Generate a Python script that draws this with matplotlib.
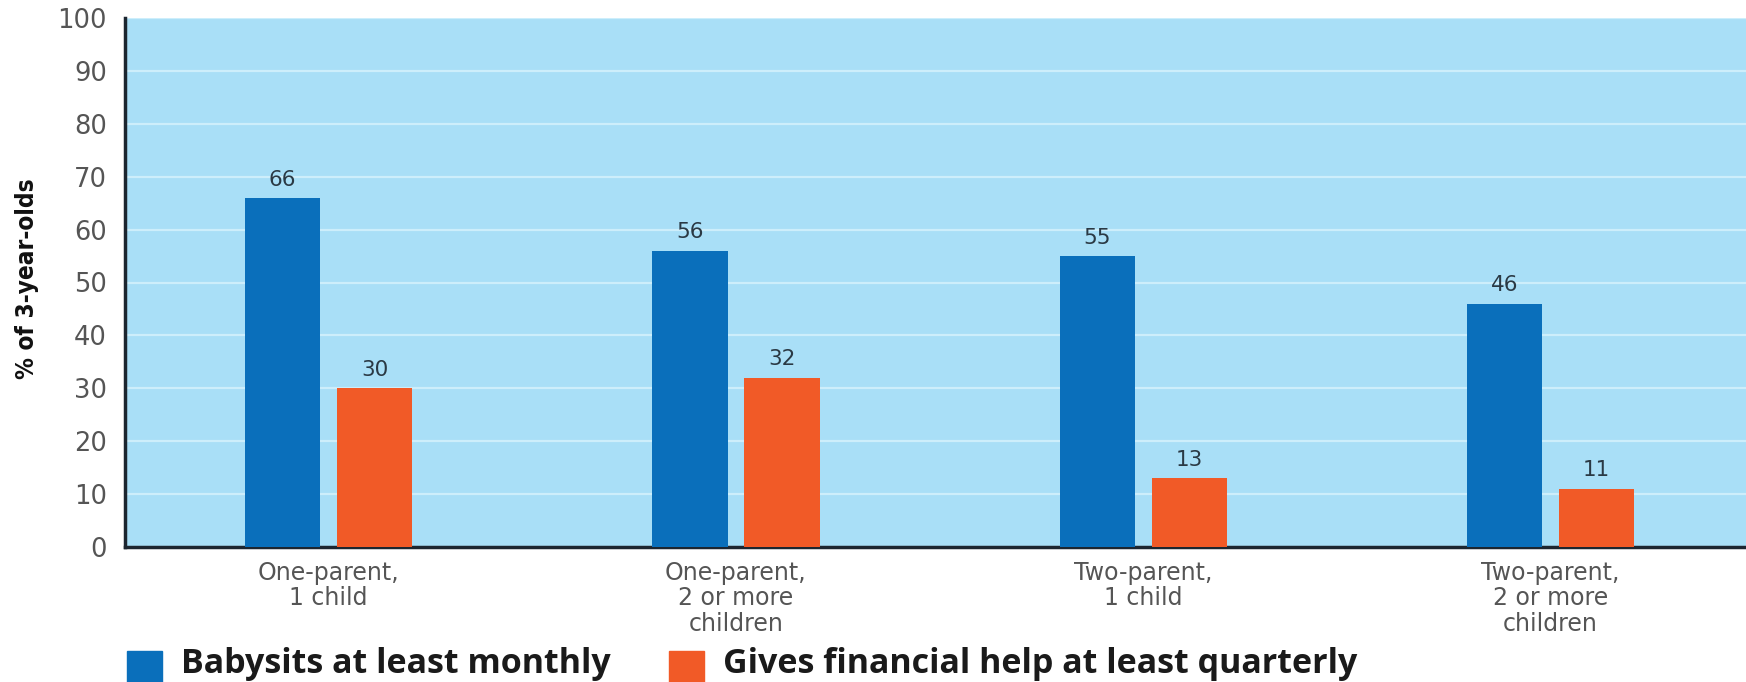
import matplotlib
matplotlib.use("Agg")
import matplotlib.pyplot as plt
from matplotlib.patches import Rectangle
import numpy as np

# family types and the share of 3-year-olds getting grandparent help
categories = ["One-parent,\n1 child", "One-parent,\n2 or more\nchildren",
              "Two-parent,\n1 child", "Two-parent,\n2 or more\nchildren"]
series_names = ["Babysits at least monthly", "Gives financial help at least quarterly"]
babysits = [66, 56, 55, 46]
financial = [30, 32, 13, 11]
yticks = [0, 10, 20, 30, 40, 50, 60, 70, 80, 90, 100]

blue = "#0a6fbb"
orange = "#f15a27"
bg = "#a9dff7"

W, H = 1746, 682
fig = plt.figure(figsize=(W / 100, H / 100), dpi=100)
ax = fig.add_axes([125 / W, 135 / H, 1 - 125 / W, 529 / H])
ax.set_facecolor(bg)

x = np.arange(len(categories))
w = 0.185
off = 0.113
b1 = ax.bar(x - off, babysits, w, color=blue, zorder=3)
b2 = ax.bar(x + off, financial, w, color=orange, zorder=3)

for bars, vals in [(b1, babysits), (b2, financial)]:
    for r, v in zip(bars, vals):
        ax.annotate(str(v), (r.get_x() + r.get_width() / 2, v),
                    xytext=(0, 6), textcoords="offset points",
                    ha="center", va="bottom", fontsize=15.5, color="#2a3944")

ax.set_xlim(-0.5, 3.48)
ax.set_ylim(0, 100)
ax.set_yticks(yticks)
ax.set_yticklabels([str(t) for t in yticks], fontsize=18.5, color="#555555")
ax.set_xticks(x)
ax.set_xticklabels(categories, fontsize=17, color="#555555", linespacing=1.08)
ax.tick_params(axis="both", length=0)
ax.tick_params(axis="y", pad=13)
ax.tick_params(axis="x", pad=10)

ax.yaxis.grid(True, color="#cdeefb", linewidth=1.6, zorder=0)
ax.set_axisbelow(True)
for s in ["top", "right"]:
    ax.spines[s].set_visible(False)
for s in ["left", "bottom"]:
    ax.spines[s].set_color("#1c2630")
    ax.spines[s].set_linewidth(2.5)

fig.text(27 / W, 1 - 279 / H, "% of 3-year-olds", rotation=90,
         ha="center", va="center", fontsize=17.5, fontweight="bold",
         fontstretch="condensed", family="DejaVu Sans", color="#111111")

# legend row along the bottom edge
legend_items = [(blue, series_names[0], 127, 181), (orange, series_names[1], 669, 723)]
for color, label, sx, tx in legend_items:
    fig.patches.append(Rectangle((sx / W, -4 / H), 35 / W, 35 / H,
                                 transform=fig.transFigure, color=color))
    fig.text(tx / W, 9 / H, label, ha="left", va="baseline",
             family="Open Sans", fontweight="bold", fontsize=24.5, color="#1a1a1a")

fig.savefig("out.png", dpi=100)
